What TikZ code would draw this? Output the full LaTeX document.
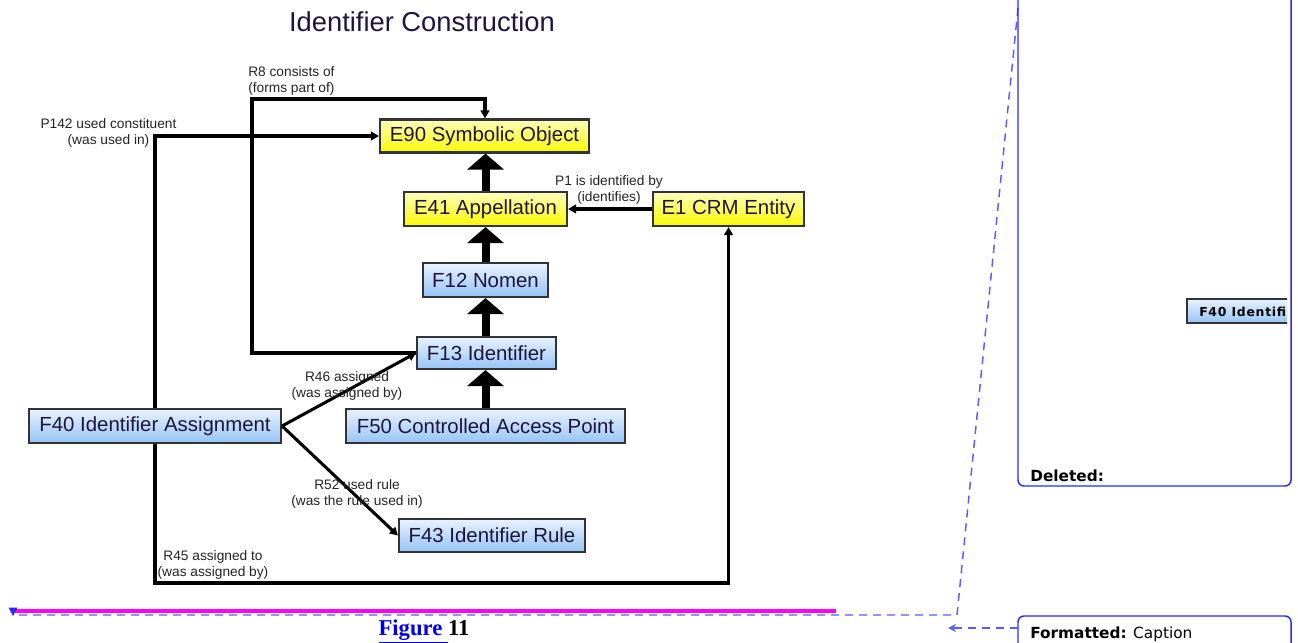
\documentclass[tikz,border=0pt]{standalone}
\usepackage{fontspec}
\setmainfont{Liberation Sans}
\newfontfamily\trackfont{DejaVu Sans}
\newfontfamily\trackspaced[LetterSpace=6]{DejaVu Sans}
\newfontfamily\capfont{Liberation Serif}
\usetikzlibrary{arrows.meta}
\definecolor{bordc}{RGB}{50,50,55}
\definecolor{nodetxt}{RGB}{30,20,60}
\definecolor{lblc}{RGB}{35,35,40}
\definecolor{ytop}{RGB}{255,255,190}
\definecolor{ybot}{RGB}{250,250,0}
\definecolor{btop}{RGB}{232,242,255}
\definecolor{bbot}{RGB}{150,196,245}
\definecolor{tblue}{RGB}{40,40,250}
\definecolor{tdashc}{RGB}{90,90,255}
\definecolor{tmag}{RGB}{255,0,255}
\definecolor{capblue}{RGB}{0,0,230}
\tikzset{
  cls/.style={draw=bordc, line width=1.6pt, inner sep=0pt, text=nodetxt,
    font=\fontsize{15.3}{18}\selectfont},
  ycls/.style={cls, top color=ytop, bottom color=ybot},
  bcls/.style={cls, top color=btop, bottom color=bbot},
  conn/.style={draw=black, line width=2.3pt},
  connarr/.style={conn, -{Triangle[length=6pt,width=6.5pt]}},
  isa/.style={draw=black, line width=6pt, -{Triangle[length=12pt,width=27pt]}},
  lbl/.style={font=\fontsize{10.3}{12}\selectfont, align=center, text=lblc, inner sep=0pt},
  tdash/.style={draw=tdashc, line width=1.1pt, dash pattern=on 6pt off 4.5pt},
  tbox/.style={draw=tblue, line width=1.1pt, rounded corners=4.5pt},
}
\begin{document}
\begin{tikzpicture}[x=0.75pt,y=-0.75pt]
\useasboundingbox (0,0) rectangle (1298,642);
\clip (0,0) rectangle (1298,642);

% title
\node[font=\fontsize{20.5}{24}\selectfont, text=nodetxt] (title) at (422,22) {Identifier Construction};

% classes
\node[ycls, minimum width=156.75pt, minimum height=24.75pt] (E90) at (484.5,136) {E90 Symbolic Object};
\node[ycls, minimum width=122.25pt, minimum height=25.5pt] (E41) at (485.5,209) {E41 Appellation};
\node[ycls, minimum width=113.25pt, minimum height=25.5pt] (E1) at (728.5,209) {E1 CRM Entity};
\node[bcls, minimum width=93.75pt, minimum height=25.5pt] (F12) at (485.5,280) {F12 Nomen};
\node[bcls, minimum width=104.25pt, minimum height=24pt] (F13) at (486.5,353) {F13 Identifier};
\node[bcls, minimum width=209.25pt, minimum height=25.5pt] (F50) at (485.5,426) {F50 Controlled Access Point};
\node[bcls, minimum width=189pt, minimum height=25.5pt] (F40) at (155,426) {F40 Identifier Assignment};
\node[bcls, minimum width=139.5pt, minimum height=24.75pt] (F43) at (492,535.5) {F43 Identifier Rule};

% isA arrows
\draw[isa] (E41.north) -- (E41.north |- E90.south);
\draw[isa] (F12.north) -- (F12.north |- E41.south);
\draw[isa] (F13.north -| F12.north) -- (F12.south);
\draw[isa] (F50.north -| F12.north) -- (F12.north |- F13.south);

% properties
\coordinate (r8a) at (252,353);
\coordinate (r8b) at (252,99);
\coordinate (r8c) at (485,99);
\coordinate (r45c) at (728.5,583);
\draw[connarr] (F13.west) -- (r8a) -- (r8b) -- (r8c) -- (r8c |- E90.north);
\draw[connarr] (F40.north) |- (E90.west);
\draw[connarr] (E1.west) -- (E41.east);
\draw[connarr] (F40.east) -- (F13.west);
\draw[connarr] (F40.east) -- (F43.west);
\draw[connarr] (F40.south) |- (r45c) -- (E1.south);

% labels
\node[lbl] (lP142) at (108.5,133) {P142 used constituent\\(was used in)};
\node[lbl, anchor=west, align=left] (lR8) at (248,81) {R8 consists of\\(forms part of)};
\node[lbl] (lP1) at (609,189.5) {P1 is identified by\\(identifies)};
\node[lbl] (lR46) at (347,385.5) {R46 assigned\\(was assigned by)};
\node[lbl] (lR52) at (357,494) {R52 used rule\\(was the rule used in)};
\node[lbl] (lR45) at (213,565) {R45 assigned to\\(was assigned by)};

% caption
\node[font=\capfont\bfseries\fontsize{17}{20}\selectfont, anchor=base] (cap) at (424,635)
  {{\color{capblue}\underline{Figure }}11};

% track-change markup
\coordinate (delc) at (1018,8);
\coordinate (bend) at (957,615);
\coordinate (leftend) at (13,615);
\draw[tmag, line width=2.4pt] (13,611) -- (836,611);
\draw[tdash] (delc) -- (bend) -- (leftend);
\fill[tblue] (8.5,607.5) -- (17.5,607.5) -- (13,616) -- cycle;

\draw[tbox] (1018,-12) rectangle (1291,486);
\node[font=\trackfont\bfseries\fontsize{11.5}{14}\selectfont, anchor=base west, inner sep=0pt] (del) at (1030,481) {Deleted:};
\begin{scope}
  \clip (1180,290) rectangle (1287,335);
  \shade[top color=btop, bottom color=bbot, draw=bordc, line width=1pt] (1187,299) rectangle (1300,323);
  \node[font=\trackspaced\bfseries\fontsize{9.3}{11}\selectfont, anchor=west, inner sep=0pt, text=black] (f40s) at (1199,311.5) {F40 Identifi};
\end{scope}

\draw[tbox] (1018,616) rectangle (1291,690);
\node[font=\trackfont\fontsize{11.5}{14}\selectfont, anchor=base west, inner sep=0pt] (fmt) at (1030,638) {\textbf{Formatted:} Caption};
\coordinate (fmtw) at (1018,628);
\coordinate (fmtend) at (948,628);
\draw[tdash, -{Stealth[length=6pt,width=6pt]}] (fmtw) -- (fmtend);
\end{tikzpicture}
\end{document}
